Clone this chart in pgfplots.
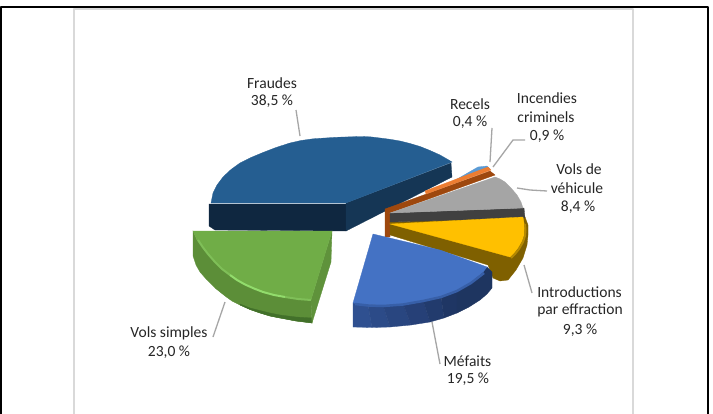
\documentclass[border=0pt]{standalone}
\usepackage{pgfplots}
\pgfplotsset{compat=1.18}
\usepackage{fontspec}
\setmainfont{Carlito}
\definecolor{lead}{HTML}{A6A6A6}
\definecolor{framegray}{HTML}{D9D9D9}
\definecolor{fr1}{HTML}{0F2740}\definecolor{fr2}{HTML}{153655}\definecolor{fr3}{HTML}{255E91}
\definecolor{vs1}{HTML}{5C8E38}\definecolor{vs2}{HTML}{42702A}\definecolor{vs3}{HTML}{5F923B}\definecolor{vs4}{HTML}{70AD47}\definecolor{vs5}{HTML}{7FBF58}\definecolor{vs6}{HTML}{92DC6C}
\definecolor{rc}{HTML}{5B9BD5}\definecolor{ic1}{HTML}{9E480E}\definecolor{ic2}{HTML}{ED7D31}
\definecolor{in1}{HTML}{7F6000}\definecolor{in2}{HTML}{FFC000}\definecolor{in3}{HTML}{B58900}
\definecolor{ve1}{HTML}{404040}\definecolor{ve2}{HTML}{A5A5A5}
\definecolor{me4}{HTML}{4472C4}\definecolor{me5}{HTML}{375FA8}
\definecolor{ma}{HTML}{2F5090}\definecolor{mb}{HTML}{2C4B88}\definecolor{mc}{HTML}{294680}\definecolor{md}{HTML}{264077}\definecolor{me}{HTML}{223B6D}\definecolor{mf}{HTML}{1F3664}\definecolor{mg}{HTML}{1E3560}
\newcommand\poly[2]{\addplot[fill=#1,draw=#1,line width=0.3pt] coordinates {#2} -- cycle;}
\newcommand\stroke[3]{\addplot[draw=#1,line width=#2,line join=round] coordinates {#3};}
\newcommand\lab[3]{\node[font=\fontsize{15.6}{17}\selectfont,text=black!85,inner sep=0pt,anchor=center] at (axis cs:#1,#2) {#3};}
\begin{document}
\begin{tikzpicture}[x=1bp,y=1bp]
\begin{axis}[
  scale only axis,width=713bp,height=414bp,
  xmin=0,xmax=713,ymin=0,ymax=414,y dir=reverse,
  hide axis,clip=true,no markers,
  every axis plot/.append style={forget plot}]
\poly{white}{(0,0)(713,0)(713,414)(0,414)}
% frames
\stroke{framegray}{2bp}{(74,414)(74,9.5)(633,9.5)(633,414)}
\stroke{black}{2.4bp}{(0.8,414)(0.8,7)(708,7)(708,414)}
% Fraudes
\poly{fr1}{(209,204)(346,204)(346,231)(215,230)(209,226)}
\poly{fr2}{(346,203)(451,163)(452,177)(346,231)}
\poly{fr3}{(211,203)(212,198)(213,193)(217,185)(223,177)(231,169.5)(240,163)(251,157.5)(263,152.5)(276,147.5)(290,143)(301,140.5)(313,138.8)(336,137.3)(360,136.5)(370,136.8)(380,138)(390,139.3)(400,141)(410,143.5)(420,146.5)(430,150.5)(440,155)(447,159)(452,162)(346,203)}
% Vols simples
\poly{vs1}{(193,231)(193,244)(193,256)(196,265)(200,272)(207,280)(215,288)(225,296)(232,301)(240,305)(250,309.5)(260,313)(270,316)(280,318)(296,321)(312,323)(311,300)(298,299)(285,297)(274,295)(263,292)(254,288.5)(245,284.5)(237,280)(230,275)(222,269)(215,262)(208,254)(203,247.5)(197,240)}
\poly{vs2}{(240,304)(250,308)(260,310.5)(270,313)(280,315)(296,317)(312,318)(312,323)(296,321)(280,318)(270,316)(260,313)(250,309.5)(240,305)}
\poly{vs3}{(332,231)(331,262)(312,323)(311,300)}
\poly{vs4}{(193,231)(332,231)(311,300)(298,299)(285,297)(274,295)(263,292)(254,288.5)(245,284.5)(237,280)(230,275)(222,269)(215,262)(208,254)(203,247.5)(197,240)}
\stroke{vs5}{2bp}{(198,240)(203,247.5)(208,254)(215,262)(222,269)(230,275)}
\stroke{vs6}{2bp}{(230,275)(237,280)(245,284.5)(254,288.5)(263,292)(274,295)(285,297)}
\stroke{vs5}{2bp}{(285,297)(298,299)(311,300)}
% Recels
\poly{rc}{(452,182)(478,167)(487,166)(490,169)(455,183)}
% Incendies criminels
\poly{ic1}{(385,209)(490,171)(495,175)(390,213)(390,237)(385,237)}
\poly{ic2}{(425,191)(488,167)(491,170)(426,194)}
% Introductions (rim)
\poly{in1}{(390,222)(525,217)(528,225)(528,235)(527,245)(523,258)(516,270)(508,280)(500,281)(493,278)(488,265)(390,235)}
% Vols de vehicule
\poly{ve1}{(390,213)(524,208)(525,218)(390,222)}
\poly{ve2}{(390,213)(495,177)(500,179)(505,182)(511,188)(517,195)(521,202)(523,208)}
% Introductions (top)
\poly{in2}{(390,224)(523,217)(524.5,226)(524,235)(522,241)(518,248)(514,253)(510,257)}
\stroke{in3}{2bp}{(525,224)(525.5,230)(525,236)(523,242)(519,249)(515,254)(511,258)}
% Mefaits
\poly{ma}{(353,303)(368,304.5)(372,327.5)(353,327)}
\poly{mb}{(368,304.5)(383,305)(390,327)(372,327.5)}
\poly{mc}{(383,305)(403,303.5)(411,325)(390,327)}
\poly{md}{(403,303.5)(423,300)(430,322)(411,325)}
\poly{me}{(423,300)(441,296)(444,318)(430,322)}
\poly{mf}{(441,296)(457,290)(457,313)(444,318)}
\poly{mg}{(457,290)(471,282)(483,272)(487,267)(492,272)(492,288)(487,294)(480,300)(469,307)(457,313)}
\poly{me4}{(373,234)(440,250)(487,267)(483,272)(471,282)(457,290)(441,296)(423,300)(403,303.5)(383,305)(368,304.5)(353,303)}
\stroke{me5}{2.5bp}{(355,304)(368,305.5)(383,306)(403,304.5)(423,301)(441,297)(457,291)(471,283)(484,273)}
% leaders
\stroke{lead}{1.3bp}{(296,110)(300,136)}
\stroke{lead}{1.3bp}{(492,128)(490,162)}
\stroke{lead}{1.3bp}{(525,140)(513,140)(493,167)}
\stroke{lead}{1.3bp}{(547,191)(530,190)(517,188)}
\stroke{lead}{1.3bp}{(524,265)(532,293)}
\stroke{lead}{1.3bp}{(432,322)(440,364)}
\stroke{lead}{1.3bp}{(225,302)(213,337)}
% labels
\lab{272}{83.5}{Fraudes}
\lab{272}{101.5}{38,5 \%}
\lab{470}{104.5}{Recels}
\lab{470}{122.5}{0,4 \%}
\lab{547}{98.5}{Incendies}
\lab{546}{117}{criminels}
\lab{547}{136}{0,9 \%}
\lab{579}{169.5}{Vols de}
\lab{577}{188}{véhicule}
\lab{578}{207}{8,4 \%}
\lab{579.5}{292}{Introductions}
\lab{580}{310.5}{par effraction}
\lab{580}{330}{9,3 \%}
\lab{467.5}{361}{Méfaits}
\lab{468}{379}{19,5 \%}
\lab{169}{333}{Vols simples}
\lab{169}{352}{23,0 \%}
\end{axis}
\end{tikzpicture}
\end{document}
